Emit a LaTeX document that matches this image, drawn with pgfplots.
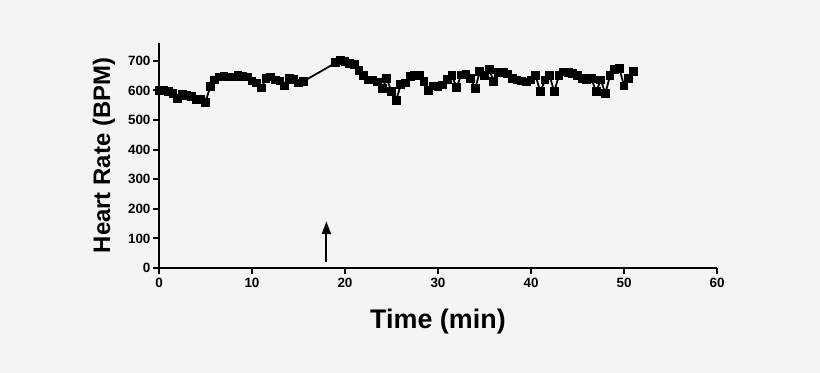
\documentclass[border=0pt]{standalone}
\usepackage{pgfplots}
\pgfplotsset{compat=1.18}
\usepackage{pgfplotstable}
\usepackage{fontspec}
\setmainfont{Liberation Sans}
\usetikzlibrary{arrows.meta}
\definecolor{bg}{HTML}{F4F4F4}

\pgfplotstableread{
t hr
0.0 600
0.5 600
1.0 595
1.5 590
2.0 572
2.5 585
3.0 582
3.5 578
4.0 568
4.5 570
5.0 560
5.5 612
6.0 635
6.5 645
7.0 648
7.5 645
8.0 645
8.5 650
9.0 648
9.5 645
10.0 632
10.5 625
11.0 608
11.5 640
12.0 645
12.5 635
13.0 632
13.5 615
14.0 640
14.5 638
15.0 625
15.5 630
19.0 693
19.5 700
20.0 697
20.5 692
21.0 688
21.5 668
22.0 650
22.5 635
23.0 635
23.5 628
24.0 605
24.5 640
25.0 595
25.5 565
26.0 620
26.5 625
27.0 648
27.5 652
28.0 650
28.5 630
29.0 600
29.5 615
30.0 612
30.5 618
31.0 638
31.5 650
32.0 610
32.5 652
33.0 655
33.5 640
34.0 605
34.5 665
35.0 650
35.5 670
36.0 630
36.5 660
37.0 660
37.5 655
38.0 640
38.5 635
39.0 632
39.5 628
40.0 635
40.5 650
41.0 595
41.5 635
42.0 650
42.5 595
43.0 650
43.5 662
44.0 660
44.5 658
45.0 650
45.5 640
46.0 635
46.5 640
47.0 595
47.5 635
48.0 590
48.5 650
49.0 670
49.5 675
50.0 615
50.5 640
51.0 665
}\hrdata

\begin{document}
\begin{tikzpicture}
\fill[bg] (-159bp,-105bp) rectangle (661bp,268bp);
\begin{axis}[
  at={(0,0)}, anchor=south west,
  width=558bp, height=225bp, scale only axis,
  xmin=0, xmax=60, ymin=0, ymax=760,
  axis x line*=bottom, axis y line*=left,
  axis line style={line width=2bp, -},
  xtick={0,10,...,60}, ytick={0,100,...,700},
  tick align=outside, major tick length=6bp,
  tick style={line width=2bp, black},
  /pgf/number format/assume math mode=true,
  ticklabel style={font=\bfseries\fontsize{13.5}{14}\selectfont},
  xticklabel style={yshift=-1bp},
  yticklabel style={xshift=1bp},
  xlabel={Time (min)},
  ylabel={Heart Rate (BPM)},
  xlabel style={font=\bfseries\fontsize{27}{28}\selectfont,
    at={(axis description cs:0.5,0)}, anchor=center, yshift=-54bp},
  ylabel style={font=\bfseries\fontsize{24}{26}\selectfont,
    at={(axis description cs:0,0.5)}, anchor=center, yshift=55bp},
  clip=false,
]
\addplot[black, line width=1.8bp, mark=square*, mark size=3.5bp,
  mark options={solid, fill=black}] table[x=t, y=hr] {\hrdata};
\draw[line width=2bp, -{Triangle[length=13bp,width=9bp]}]
  (axis cs:18,20) -- (axis cs:18,158);
\end{axis}
\end{tikzpicture}
\end{document}
